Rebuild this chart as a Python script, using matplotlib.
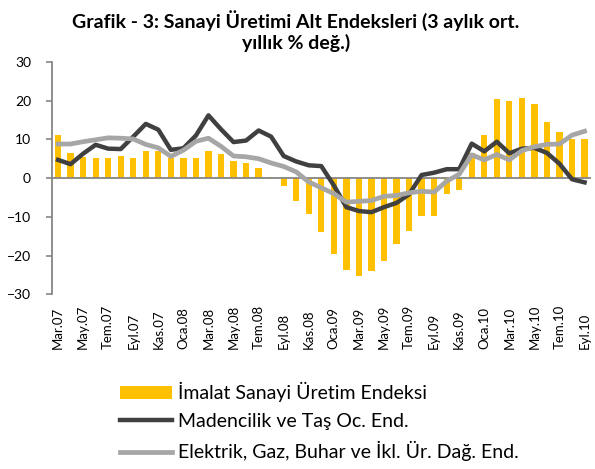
import matplotlib.pyplot as plt
import numpy as np

plt.rcParams['font.family'] = ['Lato', 'DejaVu Sans']

# aylar (Mar.07 - Eyl.10), etiketler iki ayda bir
months = ['Mar', 'Nis', 'May', 'Haz', 'Tem', 'Ağu', 'Eyl', 'Eki', 'Kas', 'Ara', 'Oca', 'Şub']
labels = []
yr, mi = 7, 0
for _ in range(43):
    labels.append(f"{months[mi]}.{yr:02d}")
    mi += 1
    if mi == 12:
        mi = 0
    if months[mi] == 'Oca':
        yr += 1

imalat = [11.2, 6.6, 5.5, 5.3, 5.3, 5.6, 5.1, 6.9, 7.0, 5.2,
          5.3, 5.1, 6.9, 6.1, 4.3, 3.8, 2.5, 0.2, -2.1, -5.9,
          -9.3, -13.9, -19.6, -23.7, -25.2, -23.9, -21.4, -17.0, -13.7, -9.9,
          -9.9, -4.0, -3.0, 6.5, 11.2, 20.5, 19.8, 20.8, 19.2, 14.6,
          11.8, 10.0, 10.2]
madencilik = [4.7, 3.6, 6.3, 8.6, 7.6, 7.5, 10.7, 14.0, 12.5, 7.3,
              7.7, 11.0, 16.2, 12.6, 9.3, 9.7, 12.3, 10.7, 5.7, 4.3,
              3.3, 3.1, -1.9, -7.5, -8.5, -8.8, -7.5, -6.4, -4.2, 0.8,
              1.4, 2.3, 2.3, 8.9, 6.9, 9.4, 6.4, 7.6, 7.8, 6.5,
              3.7, -0.3, -1.1]
elektrik = [8.8, 8.8, 9.4, 9.9, 10.4, 10.3, 10.1, 8.7, 7.8, 5.6,
            7.2, 9.5, 10.3, 8.2, 5.7, 5.5, 5.0, 3.9, 3.0, 1.6,
            -1.0, -2.5, -4.0, -6.2, -6.0, -5.8, -4.7, -4.5, -3.8, -3.4,
            -3.6, -0.8, 1.0, 6.0, 4.7, 6.1, 4.7, 7.1, 8.1, 8.7,
            8.8, 11.1, 12.1]

x = np.arange(len(labels))

fig = plt.figure(figsize=(5.95, 4.69), dpi=100)
ax = fig.add_axes([0.087, 0.3725, 0.906, 0.4955])

b = ax.bar(x, imalat, width=0.5, color='#FFC000', label='İmalat Sanayi Üretim Endeksi', zorder=2)
l1, = ax.plot(x, madencilik, color='#404040', linewidth=3.2, label='Madencilik ve Taş Oc. End.', zorder=3)
l2, = ax.plot(x, elektrik, color='#A6A6A6', linewidth=3.4, label='Elektrik, Gaz, Buhar ve İkl. Ür. Dağ. End.', zorder=4)
ax.axhline(0, color='#868686', linewidth=1.3, zorder=2.5)

ax.set_xlim(-0.5, 42.5)
ax.set_ylim(-30, 30)
ax.set_yticks(np.arange(-30, 31, 10))
ax.set_xticks(x[::2])
ax.set_xticklabels(labels[::2], rotation=90, va='bottom', ha='center')
ax.tick_params(axis='x', length=0, pad=39.5, labelsize=9.5)
ax.tick_params(axis='y', length=4, width=1.2, color='#868686', labelsize=10, pad=11)

for s in ['top', 'right', 'bottom']:
    ax.spines[s].set_visible(False)
ax.spines['left'].set_color('#868686')
ax.spines['left'].set_linewidth(1.3)

fig.text(0.497, 0.979, 'Grafik - 3: Sanayi Üretimi Alt Endeksleri (3 aylık ort.\nyıllık % değ.)',
         ha='center', va='top', fontsize=14, fontweight='bold', linespacing=1.2)

fig.legend([b, l1, l2], [b.get_label(), l1.get_label(), l2.get_label()],
           loc='upper left', bbox_to_anchor=(0.2017, 0.185), frameon=False, fontsize=14,
           handlelength=2.68, handletextpad=0.3, labelspacing=0.56, borderpad=0, borderaxespad=0)

fig.savefig('out.png', dpi=100)
